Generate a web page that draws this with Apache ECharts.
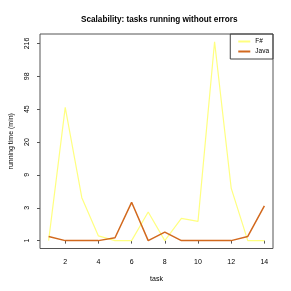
<!DOCTYPE html>
<html>
<head>
<meta charset="utf-8">
<script src="https://cdn.jsdelivr.net/npm/echarts@6/dist/echarts.min.js"></script>
<style>html,body{margin:0;padding:0;background:#fff}#c{width:291px;height:291px}</style>
</head>
<body>
<div id="c"></div>
<script>
var tasks = [1,2,3,4,5,6,7,8,9,10,11,12,13,14];
var fsharp = [1, 47, 4.2, 1.17, 1, 1, 2.6, 1, 2.1, 1.9, 225, 5.8, 1, 1];
var java = [1.15, 1, 1, 1, 1.1, 3.6, 1, 1.33, 1, 1, 1, 1, 1.15, 3.2];
var yTickLabels = [1, 3, 9, 20, 45, 98, 216];
var xTickLabels = [2, 4, 6, 8, 10, 12, 14];

function pos(v) {
  var t = yTickLabels;
  for (var i = 0; i < t.length - 1; i++) {
    if (v <= t[i + 1] || i === t.length - 2) {
      return i + Math.log(v / t[i]) / Math.log(t[i + 1] / t[i]);
    }
  }
}
function pairs(vals) { return tasks.map(function (x, i) { return [x, pos(vals[i])]; }); }
var yIdx = yTickLabels.map(function (_, i) { return i; });
var font = 'Liberation Sans, Arial, sans-serif';

var chart = echarts.init(document.getElementById('c'), null, {renderer: 'canvas'});
chart.setOption({
  animation: false,
  backgroundColor: '#fff',
  title: {
    text: 'Scalability: tasks running without errors',
    left: 76, top: 11,
    textStyle: {fontFamily: font, fontSize: 8.2, fontWeight: 'bold', color: '#000'}
  },
  legend: {
    orient: 'vertical',
    right: 18, top: 34,
    itemWidth: 12, itemHeight: 2, itemGap: 3,
    padding: [4, 4, 4, 8],
    borderColor: '#444', borderWidth: 1,
    icon: 'rect',
    textStyle: {fontFamily: font, fontSize: 6.5, color: '#000'},
    data: ['F#', 'Java']
  },
  grid: {
    left: 34, right: 18, top: 34, bottom: 42.5,
    show: true, borderColor: '#555', borderWidth: 1, backgroundColor: 'transparent'
  },
  xAxis: {
    type: 'value',
    min: 0.48, max: 14.52,
    name: 'task', nameLocation: 'middle', nameGap: 27,
    nameTextStyle: {fontFamily: font, fontSize: 7, color: '#000'},
    axisLine: {show: false},
    splitLine: {show: false},
    axisTick: {show: true, inside: false, length: 3, customValues: xTickLabels, lineStyle: {color: '#555'}},
    axisLabel: {customValues: xTickLabels, fontFamily: font, fontSize: 7, color: '#000', margin: 10}
  },
  yAxis: {
    type: 'value',
    min: -0.24, max: 6.29,
    name: 'running time (min)', nameLocation: 'middle', nameGap: 25,
    nameTextStyle: {fontFamily: font, fontSize: 7, color: '#000'},
    axisLine: {show: false},
    splitLine: {show: false},
    axisTick: {show: true, length: 3, customValues: yIdx, lineStyle: {color: '#555'}},
    axisLabel: {
      customValues: yIdx, rotate: 90, fontFamily: font, fontSize: 7, color: '#000', margin: 9,
      formatter: function (v) { return String(yTickLabels[Math.round(v)]); }
    }
  },
  series: [
    {name: 'F#', type: 'line', data: pairs(fsharp), showSymbol: false, symbol: 'none',
     lineStyle: {color: '#ffff80', width: 1.2}, itemStyle: {color: '#ffff80'}},
    {name: 'Java', type: 'line', data: pairs(java), showSymbol: false, symbol: 'none',
     lineStyle: {color: '#d2691e', width: 1.5}, itemStyle: {color: '#d2691e'}}
  ]
});
</script>
</body>
</html>
